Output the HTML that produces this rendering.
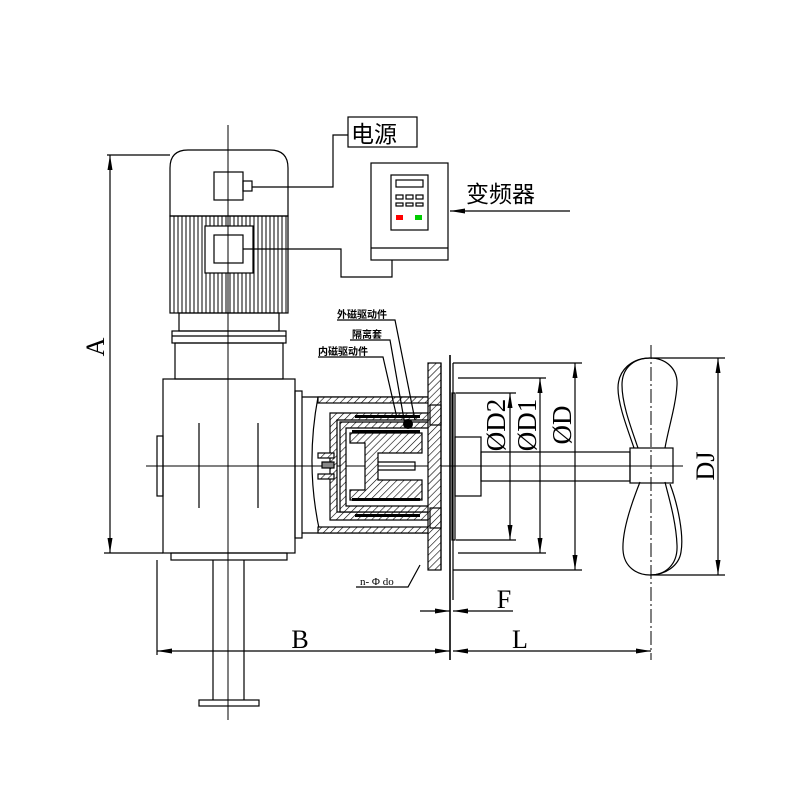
<!DOCTYPE html>
<html><head><meta charset="utf-8"><style>
html,body{margin:0;padding:0;background:#fff;}
svg{display:block;}
text{font-family:"Liberation Serif","Noto Serif CJK SC",serif;fill:#000;}
.cj{font-family:"Liberation Sans","Noto Sans CJK SC",sans-serif;}
</style></head><body>
<svg width="800" height="800" viewBox="0 0 800 800" xmlns="http://www.w3.org/2000/svg">
<defs>
<pattern id="h" width="5" height="5" patternUnits="userSpaceOnUse" patternTransform="rotate(45)">
<rect width="5" height="5" fill="#fff"/><line x1="0" y1="0" x2="0" y2="5" stroke="#000" stroke-width="1.2"/>
</pattern>
<marker id="a" viewBox="0 0 10 6" refX="10" refY="3" markerWidth="15" markerHeight="5" preserveAspectRatio="none" markerUnits="userSpaceOnUse" orient="auto-start-reverse"><path d="M0,0 L10,3 L0,6z" fill="#000"/></marker>
</defs>
<g fill="none" stroke="#000" stroke-width="1.2">
<!-- motor -->
<path d="M170,216 V168 Q170,150 188,150 H270 Q288,150 288,168 V216 Z"/>
<rect x="170" y="216" width="118" height="97"/>
<path stroke-width="1" d="M174,216V313M178,216V313M182,216V313M186,216V313M190,216V313M194,216V313M198,216V313M202,216V313M206,216V226M210,216V226M214,216V226M218,216V226M222,216V226M226,216V226M230,216V226M234,216V226M238,216V226M242,216V226M246,216V226M250,216V226M206,273V313M210,273V313M214,273V313M218,273V313M222,273V313M226,273V313M230,273V313M234,273V313M238,273V313M242,273V313M246,273V313M250,273V313M254,216V313M258,216V313M262,216V313M266,216V313M270,216V313M274,216V313M278,216V313M282,216V313M286,216V313"/>
<rect x="205" y="226" width="48" height="47" fill="#fff"/>
<rect x="214" y="235" width="29" height="28"/>
<rect x="214" y="172" width="29" height="28"/>
<rect x="243" y="181" width="9" height="10"/>
<rect x="179" y="313" width="100" height="18"/>
<rect x="172" y="331" width="114" height="12"/>
<line x1="172" y1="336" x2="286" y2="336"/>
<rect x="175" y="343" width="108" height="36"/>
<!-- gearbox -->
<rect x="163" y="379" width="132" height="174"/>
<rect x="157" y="436" width="6" height="60"/>
<rect x="295" y="391" width="7" height="147"/>
<rect x="171" y="553" width="116" height="7"/>
<line x1="199" y1="423" x2="199" y2="508"/>
<line x1="258" y1="423" x2="258" y2="508"/>
<line x1="213" y1="560" x2="213" y2="700"/><line x1="244" y1="560" x2="244" y2="700"/>
<rect x="199" y="700" width="60" height="6"/>
<line x1="228" y1="125" x2="228" y2="720" stroke-width="1"/>
<line x1="146" y1="466" x2="683" y2="466" stroke-width="1"/>
<!-- wires -->
<polyline points="252,187 333,187 333,135 348,135"/>
<rect x="348" y="117" width="69" height="30"/>
<polyline points="243,249 341,249 341,277 392,277 392,260"/>
<rect x="371" y="163" width="77" height="97"/>
<line x1="371" y1="248" x2="448" y2="248"/>
<rect x="391" y="175" width="37" height="55"/>
<rect x="396" y="180" width="27" height="7"/>
<rect x="396" y="195" width="7" height="4"/><rect x="406" y="195" width="7" height="4"/><rect x="416" y="195" width="7" height="4"/>
<rect x="396" y="203" width="7" height="3"/><rect x="406" y="203" width="7" height="3"/><rect x="416" y="203" width="7" height="3"/>
<line x1="570" y1="211" x2="450" y2="211" marker-end="url(#a)"/>
<!-- housing -->
<path d="M302,397 H435 M302,533 H435 M318,397 Q305,466 320,533"/>
<rect x="318" y="397" width="112" height="6" fill="url(#h)"/>
<rect x="318" y="527" width="112" height="6" fill="url(#h)"/>
<path d="M330,413 H430 V420 H337 V512 H430 V520 H330 Z" fill="url(#h)"/>
<path d="M340,422 H440 V428 H346 V506 H440 V512 H340 Z" fill="url(#h)"/>
<path d="M350,433 H422 V453 H378 V480 H422 V500 H350 V490 H365 V443 H350 Z" fill="url(#h)"/>
<rect x="318" y="453" width="16" height="5" fill="url(#h)"/>
<rect x="318" y="474" width="16" height="5" fill="url(#h)"/>
<rect x="322" y="462" width="12" height="6" fill="#888"/>
<path d="M378,462 H415 V470 H378" />
<rect x="428" y="363" width="13" height="207" fill="url(#h)"/>
<rect x="430" y="405" width="11" height="20" fill="url(#h)"/>
<rect x="430" y="508" width="11" height="20" fill="url(#h)"/>
<line x1="441" y1="363" x2="441" y2="570"/>
<line x1="450" y1="355" x2="450" y2="660" stroke-width="1.6"/>
<line x1="453" y1="363" x2="453" y2="600"/>
<!-- leaders -->
<polyline points="337,320 395,320 415,420"/>
<polyline points="350,340 390,340 405,425"/>
<polyline points="318,357 383,357 397,418"/>
<polyline points="356,587 408,587 420,565"/>
<!-- shaft & impeller -->
<rect x="452" y="393" width="3" height="147"/>
<rect x="455" y="437" width="26" height="59"/>
<rect x="481" y="452" width="149" height="29"/>
<rect x="630" y="448" width="43" height="35"/>
<path d="M638,448 C632,430 622,405 622,385 C622,366 636,358 650,358 C665,358 678,368 677,385 C676,405 668,430 665,448"/>
<path d="M634,448 C628,430 618,405 618,388 C618,370 632,358 650,358"/>
<path d="M640,482 C632,502 622,530 623,550 C624,568 638,575 650,575 C665,575 678,565 677,545 C676,520 668,495 665,482"/>
<path d="M670,484 C678,505 684,535 681,552 C679,566 665,575 650,575"/>
<line x1="651" y1="345" x2="651" y2="660" stroke-dasharray="14,3,2,3" stroke-width="1"/>
<!-- dims -->
<line x1="107" y1="155" x2="170" y2="155"/>
<line x1="110" y1="155" x2="110" y2="553" marker-start="url(#a)" marker-end="url(#a)"/>
<line x1="104" y1="553" x2="163" y2="553"/>
<line x1="157" y1="560" x2="157" y2="655"/>
<line x1="157" y1="651" x2="450" y2="651" marker-start="url(#a)" marker-end="url(#a)"/>
<line x1="453" y1="651" x2="651" y2="651" marker-start="url(#a)" marker-end="url(#a)"/>
<line x1="420" y1="611" x2="450" y2="611" marker-end="url(#a)"/>
<line x1="513" y1="611" x2="453" y2="611" marker-end="url(#a)"/>
<line x1="453" y1="363" x2="582" y2="363"/><line x1="453" y1="570" x2="582" y2="570"/>
<line x1="575" y1="363" x2="575" y2="570" marker-start="url(#a)" marker-end="url(#a)"/>
<line x1="458" y1="378" x2="546" y2="378"/><line x1="458" y1="553" x2="546" y2="553"/>
<line x1="540" y1="378" x2="540" y2="553" marker-start="url(#a)" marker-end="url(#a)"/>
<line x1="456" y1="393" x2="516" y2="393"/><line x1="456" y1="540" x2="516" y2="540"/>
<line x1="510" y1="393" x2="510" y2="540" marker-start="url(#a)" marker-end="url(#a)"/>
<line x1="651" y1="358" x2="725" y2="358"/><line x1="651" y1="575" x2="725" y2="575"/>
<line x1="718" y1="358" x2="718" y2="575" marker-start="url(#a)" marker-end="url(#a)"/>
</g>
<rect x="396" y="215" width="7" height="5" fill="#f00"/>
<rect x="415" y="215" width="7" height="5" fill="#0c0"/>
<rect x="355" y="415" width="65" height="3"/><rect x="355" y="514" width="65" height="3"/>
<rect x="352" y="430" width="68" height="3"/><rect x="352" y="498" width="68" height="3"/>
<circle cx="408" cy="424" r="5"/>
<text class="cj" x="351" y="142" font-size="23">电源</text>
<text class="cj" x="466" y="202" font-size="23">变频器</text>
<text class="cj" x="337" y="318" font-size="10" font-weight="bold">外磁驱动件</text>
<text class="cj" x="352" y="338" font-size="10" font-weight="bold">隔离套</text>
<text class="cj" x="318" y="355" font-size="10" font-weight="bold">内磁驱动件</text>
<text x="360" y="585" font-size="11">n- Φ do</text>
<text x="104" y="347" font-size="26" transform="rotate(-90 104 347)" text-anchor="middle">A</text>
<text x="300" y="648" font-size="26" text-anchor="middle">B</text>
<text x="520" y="648" font-size="26" text-anchor="middle">L</text>
<text x="504" y="608" font-size="26" text-anchor="middle">F</text>
<text x="505" y="425" font-size="27" transform="rotate(-90 505 425)" text-anchor="middle">ØD2</text>
<text x="536" y="425" font-size="27" transform="rotate(-90 536 425)" text-anchor="middle">ØD1</text>
<text x="571" y="425" font-size="27" transform="rotate(-90 571 425)" text-anchor="middle">ØD</text>
<text x="714" y="466" font-size="26" transform="rotate(-90 714 466)" text-anchor="middle">DJ</text>
</svg>
</body></html>
